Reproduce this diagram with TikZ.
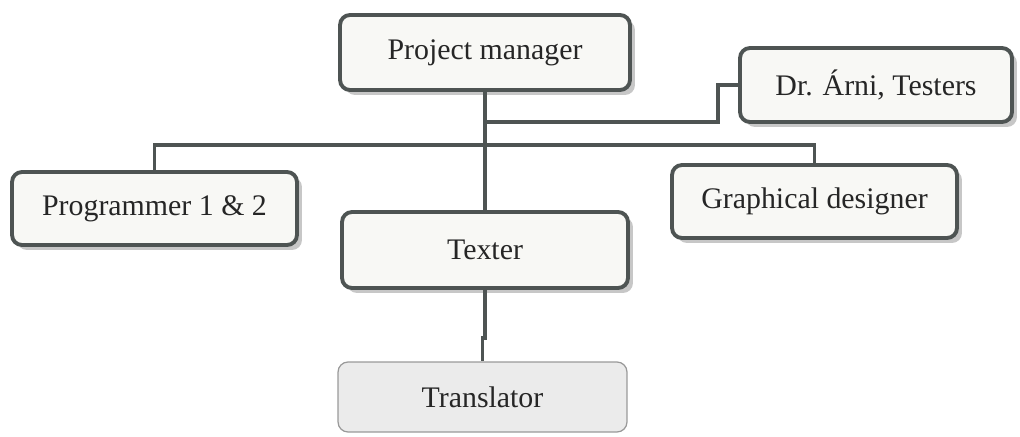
\documentclass[tikz,border=0pt]{standalone}
\usepackage{fontspec}
\setmainfont{Liberation Serif}
\usetikzlibrary{shadows}
\definecolor{edge}{HTML}{4E5453}
\definecolor{paper}{HTML}{F8F8F5}
\begin{document}
\begin{tikzpicture}[
        x=0.02cm, y=-0.02cm,
        post/.style={rectangle, rounded corners=0.2cm, draw=edge, line width=2.2pt, fill=paper,
            drop shadow={shadow xshift=0.1cm, shadow yshift=-0.1cm, fill=black!22, opacity=1},
            font=\fontsize{17}{20}\selectfont, text=black!85},
        helper/.style={rectangle, rounded corners=0.2cm, draw=black!40, line width=0.7pt, fill=black!8,
            font=\fontsize{17}{20}\selectfont, text=black!85},
        link/.style={draw=edge, line width=2pt}
    ]
        \useasboundingbox (0,0) rectangle (1020,436);

        % Posts
        \node[post, minimum width=5.8cm, minimum height=1.5cm] (pm) at (485,52.5) {Project manager};
        \node[post, minimum width=5.44cm, minimum height=1.48cm] (dr) at (876,85) {Dr. Árni, Testers};
        \node[post, minimum width=5.7cm, minimum height=1.46cm] (prog) at (154.5,208.5) {Programmer 1 \& 2};
        \node[post, minimum width=5.72cm, minimum height=1.52cm] (texter) at (485,250) {Texter};
        \node[post, minimum width=5.7cm, minimum height=1.46cm] (graph) at (814.5,201.5) {Graphical designer};
        \node[helper, minimum width=5.78cm, minimum height=1.4cm] (trans) at (482.5,397) {Translator};

        % Joints
        \coordinate (tap) at (485,122);
        \coordinate (bend) at (718,122);
        \coordinate (hub) at (485,145);
        \coordinate (jog) at (485,338);

        \draw[link] (pm) -- (texter);
        \draw[link] (tap) -- (bend) |- (dr.west);
        \draw[link] (prog.north) |- (hub) -| (graph.north);
        \draw[link] (texter.south) -- (jog) -| (trans.north);
    \end{tikzpicture}
\end{document}
